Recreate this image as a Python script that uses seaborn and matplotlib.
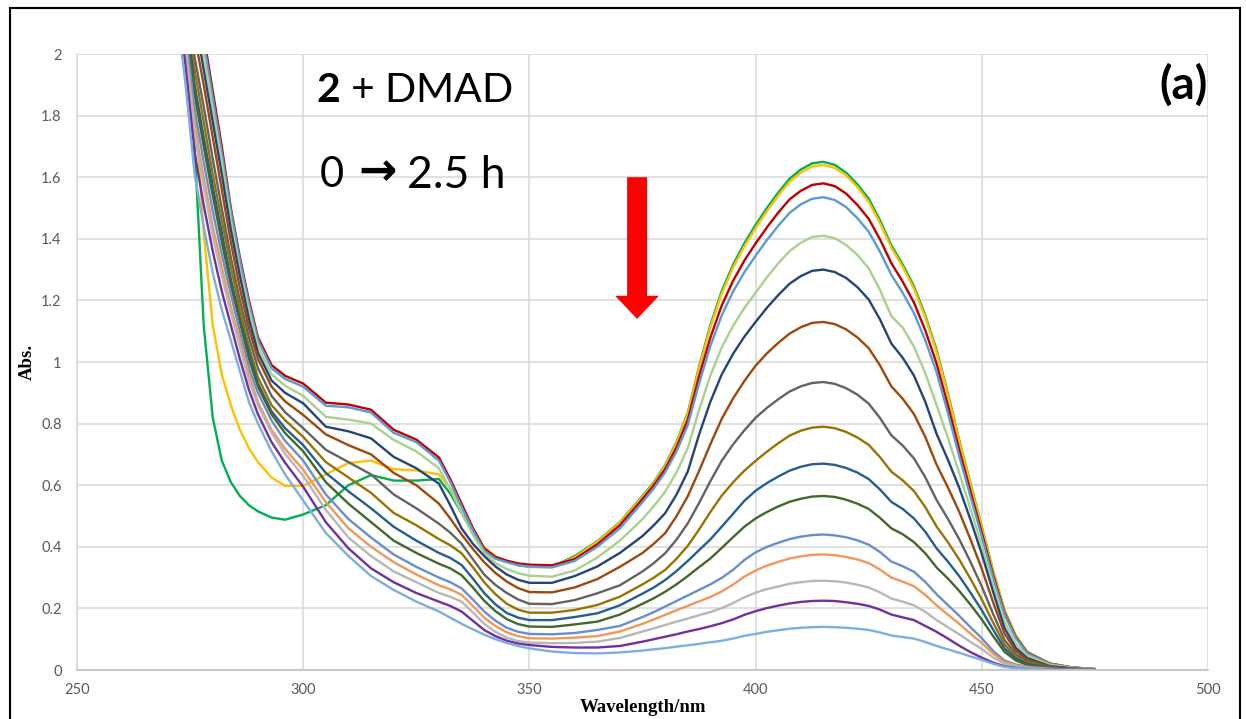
import numpy as np
import pandas as pd
import matplotlib
matplotlib.use("Agg")
import matplotlib.pyplot as plt
import seaborn as sns
from matplotlib.patches import FancyArrow, Rectangle

# wavelength grid (nm)
wavelength = [272, 274, 276, 278, 280, 282, 284, 286, 288, 290, 293, 296,
              300, 305, 310, 315, 320, 325, 330,
              332.5, 335, 337.5, 340, 342.5, 345, 347.5, 350,
              355, 360, 365, 370, 375, 377.5, 380,
              382.5, 385, 387.5, 390, 392.5, 395, 397.5, 400,
              402.5, 405, 407.5, 410, 412.5, 415,
              417.5, 420, 422.5, 425, 427.5, 430,
              432.5, 435, 437.5, 440, 442.5, 445, 447.5, 450, 452.5, 455, 457.5, 460,
              465, 470, 475]

# absorbance, one list per scan (0 -> 2.5 h)
abs_01 = [2.3, 2.0, 1.70, 1.12, 0.82, 0.68, 0.61, 0.565, 0.535, 0.515, 0.495, 0.488,
          0.505, 0.535, 0.60, 0.633, 0.615, 0.615, 0.62,
          0.573, 0.51, 0.448, 0.395, 0.367, 0.352, 0.341, 0.335,
          0.335, 0.37, 0.418, 0.48, 0.565, 0.61, 0.665,
          0.74, 0.835, 0.985, 1.12, 1.23, 1.315, 1.385, 1.445,
          1.50, 1.55, 1.595, 1.625, 1.645, 1.65,
          1.64, 1.615, 1.577, 1.53, 1.46, 1.379,
          1.317, 1.246, 1.152, 1.04, 0.898, 0.747, 0.606, 0.465, 0.322, 0.195, 0.112, 0.059,
          0.021, 0.008, 0.003]
abs_02 = [2.5, 2.2, 1.85, 1.42, 1.12, 0.96, 0.86, 0.78, 0.72, 0.675, 0.625, 0.598,
          0.598, 0.635, 0.672, 0.68, 0.652, 0.648, 0.635,
          0.59, 0.53, 0.46, 0.398, 0.369, 0.354, 0.341, 0.334,
          0.334, 0.366, 0.416, 0.478, 0.562, 0.607, 0.662,
          0.736, 0.831, 0.979, 1.113, 1.222, 1.306, 1.375, 1.435,
          1.49, 1.54, 1.585, 1.615, 1.635, 1.64,
          1.63, 1.606, 1.568, 1.52, 1.451, 1.371,
          1.309, 1.238, 1.145, 1.033, 0.892, 0.743, 0.602, 0.462, 0.32, 0.194, 0.112, 0.059,
          0.021, 0.008, 0.003]
abs_03 = [2.6, 2.4, 2.22, 2.06, 1.88, 1.7, 1.5, 1.34, 1.2, 1.08, 0.99, 0.955,
          0.93, 0.868, 0.862, 0.845, 0.78, 0.748, 0.69,
          0.62, 0.54, 0.461, 0.395, 0.367, 0.355, 0.346, 0.342,
          0.34, 0.36, 0.408, 0.47, 0.555, 0.60, 0.652,
          0.722, 0.812, 0.953, 1.079, 1.183, 1.263, 1.329, 1.385,
          1.437, 1.485, 1.528, 1.556, 1.575, 1.58,
          1.571, 1.547, 1.51, 1.465, 1.398, 1.321,
          1.261, 1.193, 1.103, 0.995, 0.86, 0.716, 0.58, 0.446, 0.308, 0.186, 0.107, 0.057,
          0.021, 0.008, 0.003]
abs_04 = [2.59, 2.39, 2.2, 2.04, 1.86, 1.68, 1.49, 1.33, 1.19, 1.07, 0.98, 0.945,
          0.92, 0.858, 0.853, 0.836, 0.77, 0.74, 0.68,
          0.611, 0.53, 0.454, 0.388, 0.361, 0.35, 0.34, 0.336,
          0.333, 0.354, 0.40, 0.46, 0.545, 0.59, 0.642,
          0.709, 0.795, 0.93, 1.052, 1.151, 1.228, 1.291, 1.345,
          1.396, 1.442, 1.484, 1.512, 1.53, 1.535,
          1.526, 1.503, 1.467, 1.423, 1.358, 1.283,
          1.225, 1.159, 1.071, 0.967, 0.835, 0.695, 0.563, 0.433, 0.299, 0.181, 0.104, 0.055,
          0.02, 0.008, 0.003]
abs_05 = [2.56, 2.35, 2.16, 2.0, 1.82, 1.65, 1.46, 1.3, 1.17, 1.05, 0.96, 0.923,
          0.89, 0.822, 0.813, 0.80, 0.747, 0.71, 0.655,
          0.587, 0.51, 0.439, 0.38, 0.347, 0.328, 0.314, 0.306,
          0.303, 0.323, 0.365, 0.42, 0.49, 0.532, 0.579,
          0.641, 0.72, 0.844, 0.956, 1.047, 1.117, 1.175, 1.225,
          1.275, 1.32, 1.36, 1.387, 1.406, 1.41,
          1.402, 1.38, 1.348, 1.304, 1.234, 1.149,
          1.112, 1.05, 0.964, 0.86, 0.754, 0.64, 0.523, 0.403, 0.275, 0.158, 0.086, 0.047,
          0.017, 0.007, 0.002]
abs_06 = [2.52, 2.32, 2.12, 1.95, 1.78, 1.61, 1.43, 1.28, 1.14, 1.03, 0.94, 0.9,
          0.866, 0.79, 0.775, 0.752, 0.692, 0.655, 0.605,
          0.535, 0.46, 0.41, 0.37, 0.336, 0.31, 0.293, 0.283,
          0.283, 0.305, 0.336, 0.38, 0.435, 0.47, 0.509,
          0.569, 0.644, 0.764, 0.871, 0.959, 1.026, 1.082, 1.13,
          1.176, 1.217, 1.254, 1.279, 1.296, 1.30,
          1.292, 1.273, 1.243, 1.203, 1.138, 1.06,
          1.014, 0.956, 0.871, 0.767, 0.683, 0.592, 0.488, 0.377, 0.254, 0.137, 0.072, 0.039,
          0.013, 0.005, 0.001]
abs_07 = [2.48, 2.27, 2.06, 1.9, 1.73, 1.56, 1.39, 1.24, 1.11, 1.01, 0.92, 0.872,
          0.828, 0.765, 0.73, 0.70, 0.64, 0.60, 0.54,
          0.492, 0.44, 0.393, 0.35, 0.315, 0.287, 0.266, 0.253,
          0.252, 0.268, 0.295, 0.335, 0.38, 0.41, 0.444,
          0.499, 0.564, 0.646, 0.733, 0.815, 0.881, 0.938, 0.988,
          1.028, 1.062, 1.092, 1.113, 1.127, 1.13,
          1.123, 1.106, 1.08, 1.045, 0.989, 0.921,
          0.881, 0.831, 0.757, 0.667, 0.593, 0.514, 0.424, 0.328, 0.22, 0.119, 0.062, 0.034,
          0.011, 0.005, 0.001]
abs_08 = [2.43, 2.22, 1.99, 1.83, 1.66, 1.5, 1.34, 1.2, 1.08, 0.98, 0.89, 0.837,
          0.785, 0.715, 0.675, 0.635, 0.57, 0.525, 0.475,
          0.446, 0.41, 0.36, 0.31, 0.276, 0.25, 0.229, 0.215,
          0.214, 0.227, 0.249, 0.275, 0.32, 0.347, 0.379,
          0.423, 0.476, 0.542, 0.613, 0.679, 0.732, 0.778, 0.819,
          0.851, 0.879, 0.904, 0.921, 0.932, 0.935,
          0.929, 0.915, 0.894, 0.865, 0.818, 0.762,
          0.729, 0.687, 0.626, 0.552, 0.491, 0.425, 0.351, 0.271, 0.182, 0.098, 0.051, 0.028,
          0.009, 0.004, 0.001]
abs_09 = [2.4, 2.18, 1.95, 1.78, 1.61, 1.46, 1.31, 1.17, 1.05, 0.95, 0.86, 0.811,
          0.757, 0.675, 0.625, 0.575, 0.51, 0.47, 0.425,
          0.405, 0.379, 0.334, 0.285, 0.246, 0.215, 0.196, 0.186,
          0.186, 0.195, 0.211, 0.238, 0.278, 0.30, 0.325,
          0.361, 0.403, 0.456, 0.513, 0.566, 0.609, 0.647, 0.679,
          0.709, 0.736, 0.761, 0.777, 0.787, 0.79,
          0.785, 0.773, 0.755, 0.731, 0.691, 0.644,
          0.616, 0.581, 0.529, 0.466, 0.415, 0.359, 0.296, 0.229, 0.154, 0.083, 0.043, 0.024,
          0.008, 0.003, 0.001]
abs_10 = [2.36, 2.14, 1.9, 1.73, 1.57, 1.42, 1.27, 1.14, 1.03, 0.93, 0.84, 0.785,
          0.73, 0.64, 0.58, 0.525, 0.465, 0.42, 0.38,
          0.364, 0.341, 0.297, 0.25, 0.213, 0.185, 0.17, 0.162,
          0.162, 0.172, 0.184, 0.21, 0.248, 0.268, 0.292,
          0.321, 0.354, 0.389, 0.424, 0.465, 0.507, 0.549, 0.582,
          0.607, 0.628, 0.647, 0.66, 0.668, 0.67,
          0.666, 0.656, 0.641, 0.62, 0.586, 0.546,
          0.523, 0.492, 0.449, 0.395, 0.352, 0.305, 0.251, 0.194, 0.131, 0.07, 0.037, 0.02,
          0.007, 0.003, 0.001]
abs_11 = [2.34, 2.11, 1.87, 1.7, 1.54, 1.39, 1.25, 1.13, 1.01, 0.92, 0.83, 0.769,
          0.71, 0.61, 0.54, 0.48, 0.42, 0.38, 0.345,
          0.33, 0.308, 0.268, 0.225, 0.191, 0.165, 0.149, 0.141,
          0.14, 0.148, 0.157, 0.18, 0.215, 0.233, 0.254,
          0.278, 0.305, 0.334, 0.362, 0.396, 0.431, 0.465, 0.492,
          0.513, 0.531, 0.546, 0.556, 0.563, 0.565,
          0.562, 0.553, 0.54, 0.523, 0.494, 0.46,
          0.441, 0.415, 0.379, 0.333, 0.297, 0.257, 0.212, 0.164, 0.11, 0.059, 0.031, 0.017,
          0.006, 0.002, 0.001]
abs_12 = [2.3, 2.07, 1.82, 1.65, 1.49, 1.35, 1.22, 1.1, 0.98, 0.9, 0.81, 0.744,
          0.68, 0.57, 0.49, 0.43, 0.375, 0.335, 0.30,
          0.285, 0.265, 0.229, 0.19, 0.16, 0.137, 0.124, 0.117,
          0.116, 0.12, 0.13, 0.143, 0.172, 0.188, 0.206,
          0.224, 0.242, 0.26, 0.278, 0.299, 0.325, 0.357, 0.382,
          0.40, 0.413, 0.425, 0.433, 0.438, 0.44,
          0.437, 0.431, 0.421, 0.407, 0.383, 0.352,
          0.337, 0.319, 0.286, 0.246, 0.211, 0.176, 0.139, 0.103, 0.062, 0.031, 0.018, 0.011,
          0.004, 0.001, 0.0]
abs_13 = [2.27, 2.03, 1.77, 1.6, 1.44, 1.31, 1.18, 1.07, 0.96, 0.87, 0.78, 0.718,
          0.65, 0.545, 0.46, 0.40, 0.35, 0.31, 0.275,
          0.262, 0.244, 0.208, 0.17, 0.143, 0.122, 0.11, 0.103,
          0.102, 0.105, 0.11, 0.125, 0.15, 0.164, 0.179,
          0.194, 0.208, 0.223, 0.237, 0.255, 0.277, 0.303, 0.323,
          0.339, 0.351, 0.362, 0.369, 0.374, 0.375,
          0.373, 0.367, 0.359, 0.347, 0.326, 0.30,
          0.287, 0.272, 0.244, 0.21, 0.18, 0.15, 0.118, 0.088, 0.053, 0.026, 0.015, 0.009,
          0.004, 0.001, 0.0]
abs_14 = [2.24, 2.01, 1.74, 1.57, 1.41, 1.28, 1.16, 1.05, 0.94, 0.86, 0.77, 0.702,
          0.63, 0.52, 0.43, 0.37, 0.32, 0.285, 0.25,
          0.238, 0.222, 0.187, 0.15, 0.124, 0.105, 0.094, 0.089,
          0.087, 0.088, 0.092, 0.104, 0.125, 0.135, 0.146,
          0.157, 0.167, 0.178, 0.188, 0.201, 0.217, 0.236, 0.251,
          0.263, 0.271, 0.28, 0.285, 0.289, 0.29,
          0.288, 0.284, 0.277, 0.268, 0.252, 0.232,
          0.222, 0.21, 0.189, 0.162, 0.139, 0.116, 0.091, 0.068, 0.041, 0.02, 0.012, 0.007,
          0.003, 0.001, 0.0]
abs_15 = [2.2, 1.96, 1.68, 1.51, 1.36, 1.23, 1.12, 1.01, 0.91, 0.83, 0.74, 0.673,
          0.595, 0.48, 0.395, 0.33, 0.285, 0.25, 0.222,
          0.208, 0.19, 0.16, 0.13, 0.11, 0.095, 0.086, 0.081,
          0.075, 0.073, 0.073, 0.078, 0.092, 0.10, 0.108,
          0.116, 0.125, 0.133, 0.142, 0.152, 0.164, 0.179, 0.191,
          0.201, 0.209, 0.216, 0.221, 0.224, 0.225,
          0.224, 0.22, 0.215, 0.208, 0.196, 0.18,
          0.171, 0.162, 0.143, 0.124, 0.102, 0.079, 0.058, 0.04, 0.024, 0.012, 0.007, 0.004,
          0.002, 0.001, 0.0]
abs_16 = [2.15, 1.9, 1.61, 1.44, 1.29, 1.17, 1.07, 0.97, 0.87, 0.8, 0.71, 0.635,
          0.55, 0.445, 0.37, 0.305, 0.26, 0.222, 0.19,
          0.17, 0.15, 0.132, 0.115, 0.1, 0.088, 0.078, 0.07,
          0.06, 0.055, 0.054, 0.057, 0.063, 0.067, 0.071,
          0.076, 0.08, 0.085, 0.09, 0.095, 0.102, 0.111, 0.117,
          0.124, 0.129, 0.134, 0.137, 0.139, 0.14,
          0.139, 0.137, 0.134, 0.13, 0.122, 0.112,
          0.107, 0.102, 0.091, 0.078, 0.067, 0.056, 0.044, 0.033, 0.02, 0.01, 0.006, 0.004,
          0.001, 0.0, 0.0]

scans = [abs_01, abs_02, abs_03, abs_04, abs_05, abs_06, abs_07, abs_08,
         abs_09, abs_10, abs_11, abs_12, abs_13, abs_14, abs_15, abs_16]
scan_colors = ['#00B050', '#FFC000', '#C00000', '#5B9BD5', '#A9D18E', '#264478',
               '#9E480E', '#636363', '#997300', '#255E91', '#43682B', '#698ED0',
               '#F1975A', '#B7B7B7', '#7030A0', '#7CAFDD']

for s in scans:
    assert len(s) == len(wavelength)

# long-form table for seaborn
rows = []
for i, vals in enumerate(scans):
    rows.append(pd.DataFrame({'Wavelength': wavelength, 'Abs': vals, 'scan': 'scan %02d' % (i + 1)}))
df = pd.concat(rows, ignore_index=True)

sns.set_theme(style="white")
plt.rcParams['font.family'] = ['Lato', 'DejaVu Sans']
plt.rcParams['mathtext.fontset'] = 'custom'
plt.rcParams['mathtext.rm'] = 'Lato'
plt.rcParams['mathtext.bf'] = 'Lato:bold'

W, H = 1246, 719
fig = plt.figure(figsize=(W / 100, H / 100), dpi=100)
ax = fig.add_axes([77 / W, 1 - 670 / H, (1208 - 77) / W, (670 - 54) / H])

sns.lineplot(data=df, x='Wavelength', y='Abs', hue='scan', palette=scan_colors,
             estimator=None, sort=False, legend=False, linewidth=1.7, ax=ax)

ax.set_xlim(250, 500)
ax.set_ylim(0, 2)
ax.set_xticks([250, 300, 350, 400, 450, 500])
yt = [0, 0.2, 0.4, 0.6, 0.8, 1.0, 1.2, 1.4, 1.6, 1.8, 2.0]
ax.set_yticks(yt)
ax.set_yticklabels(['%g' % v for v in yt])
ax.grid(True, color='#D9D9D9', linewidth=1.1)
ax.set_axisbelow(True)
for side in ['top', 'right']:
    ax.spines[side].set_visible(False)
ax.spines['left'].set_color('#D9D9D9')
ax.spines['bottom'].set_color('#BFBFBF')
ax.spines['left'].set_linewidth(1.1)
ax.spines['bottom'].set_linewidth(1.1)
ax.tick_params(axis='both', length=0, labelsize=10.5, labelcolor='#595959')
ax.tick_params(axis='x', pad=9)
ax.tick_params(axis='y', pad=11)

ax.set_xlabel('Wavelength/nm', fontfamily='Liberation Serif', fontweight='bold',
              fontsize=13.5, color='black')
ax.set_ylabel('Abs.', fontfamily='Liberation Serif', fontweight='bold',
              fontsize=13.5, color='black')
ax.xaxis.set_label_coords(0.5, -0.047)
ax.yaxis.set_label_coords(-0.036, 0.5)

# annotations
def px(x, y):
    return x / W, 1 - y / H

fig.text(*px(316, 90), r'$\mathbf{2}$ + DMAD', fontsize=29.5, va='center', ha='left', color='black')
fig.text(*px(320, 175), '0', fontsize=30, va='center', ha='left', color='black')
fig.text(*px(378, 173), '\u2192', fontsize=33, fontweight='bold', va='center', ha='center',
         color='black', family='DejaVu Sans')
fig.text(*px(407, 175), '2.5 h', fontsize=32, va='center', ha='left', color='black')
fig.text(*px(1208, 85), '(a)', fontsize=33, fontweight='bold', va='center', ha='right', color='black')

# red arrow
ax.add_patch(FancyArrow(373.8, 1.6, 0, -0.46, width=4.4, head_width=9.7, head_length=0.075,
                        length_includes_head=True, color='#FF0000', linewidth=0))

# outer frame
fig.patches.append(Rectangle((10 / W, -0.05), (1240 - 10) / W, 1.05 - 8 / H,
                             transform=fig.transFigure, fill=False, edgecolor='black',
                             linewidth=1.5))

fig.savefig('out.png', dpi=100)
